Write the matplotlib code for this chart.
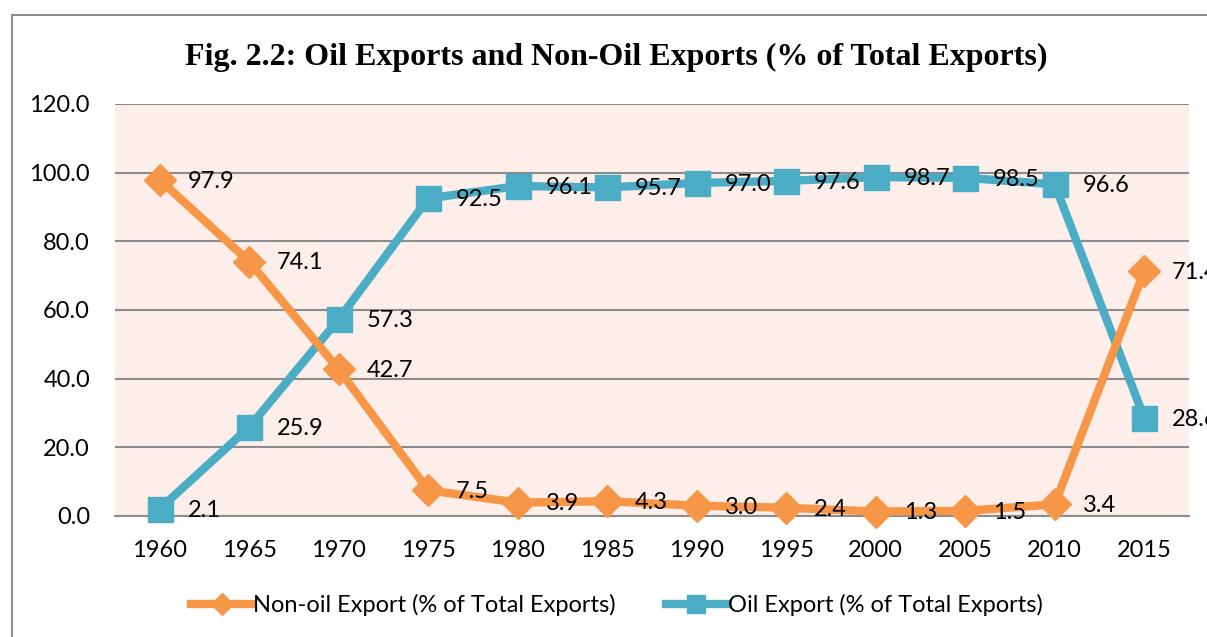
import matplotlib.pyplot as plt
from matplotlib.patches import Rectangle
from matplotlib.lines import Line2D

# ---------------------------
# DATA
# ---------------------------
years = ["1960", "1965", "1970", "1975", "1980", "1985",
         "1990", "1995", "2000", "2005", "2010", "2015"]
non_oil = [97.9, 74.1, 42.7, 7.5, 3.9, 4.3, 3.0, 2.4, 1.3, 1.5, 3.4, 71.4]
oil = [2.1, 25.9, 57.3, 92.5, 96.1, 95.7, 97.0, 97.6, 98.7, 98.5, 96.6, 28.6]
y_ticks = [0, 20, 40, 60, 80, 100, 120]

ORANGE = "#F79646"
BLUE = "#4BACC6"
PINK = "#FDEEE9"
GRID = "#8C8C8C"
FONT = ["Lato", "DejaVu Sans"]
FS = 17

fig = plt.figure(figsize=(12.07, 6.37), dpi=100)

# outer chart frame (extends past the right edge like the screenshot)
fig.patches.append(Rectangle((12 / 1207, -0.05), 1.1, 1 - 15 / 637 + 0.05,
                             transform=fig.transFigure, fill=False,
                             edgecolor="#8C8C8C", linewidth=1.5))

ax = fig.add_axes([115 / 1207, 1 - 516 / 637, 1074 / 1207, 412 / 637])
ax.set_facecolor(PINK)

x = list(range(len(years)))

ax.plot(x, oil, color=BLUE, linewidth=6, marker="s", markersize=18,
        zorder=3, clip_on=False)
ax.plot(x, non_oil, color=ORANGE, linewidth=6, marker="D", markersize=16,
        zorder=4, clip_on=False)

# data labels to the right of each point
for i in x:
    ax.annotate(f"{non_oil[i]:.1f}", (i, non_oil[i]), xytext=(20, -1),
                textcoords="offset points", va="center", ha="left",
                fontsize=FS, family=FONT, annotation_clip=False, zorder=5)
    ax.annotate(f"{oil[i]:.1f}", (i, oil[i]), xytext=(20, -1),
                textcoords="offset points", va="center", ha="left",
                fontsize=FS, family=FONT, annotation_clip=False, zorder=5)

ax.set_xlim(-0.5, len(years) - 0.5)
ax.set_ylim(0, 120)
ax.set_yticks(y_ticks)
ax.set_yticklabels([f"{v:.1f}" for v in y_ticks], family=FONT, fontsize=FS)
ax.set_xticks(x)
ax.set_xticklabels(years, family=FONT, fontsize=FS)
ax.tick_params(axis="both", length=0)
ax.tick_params(axis="y", pad=18)
ax.tick_params(axis="x", pad=17)

ax.grid(axis="y", color=GRID, linewidth=1.5, zorder=1)
ax.set_axisbelow(True)
for side in ["left", "right", "top"]:
    ax.spines[side].set_visible(False)
ax.spines["bottom"].set_color(GRID)
ax.spines["bottom"].set_linewidth(1.5)

fig.text(616 / 1207, 1 - 57 / 637,
         "Fig. 2.2: Oil Exports and Non-Oil Exports (% of Total Exports)",
         ha="center", va="center", fontsize=23, fontweight="bold",
         family="Liberation Serif")

handles = [
    Line2D([], [], color=ORANGE, linewidth=6, marker="D", markersize=11),
    Line2D([], [], color=BLUE, linewidth=6, marker="s", markersize=13),
]
fig.legend(handles, ["Non-oil Export (% of Total Exports)",
                     "Oil Export (% of Total Exports)"],
           loc="center", bbox_to_anchor=(617 / 1207, 1 - 605 / 637),
           ncol=2, frameon=False, handlelength=2.6, handletextpad=0.05,
           columnspacing=2.1, prop={"family": FONT, "size": FS})

fig.savefig("out.png", dpi=100)
